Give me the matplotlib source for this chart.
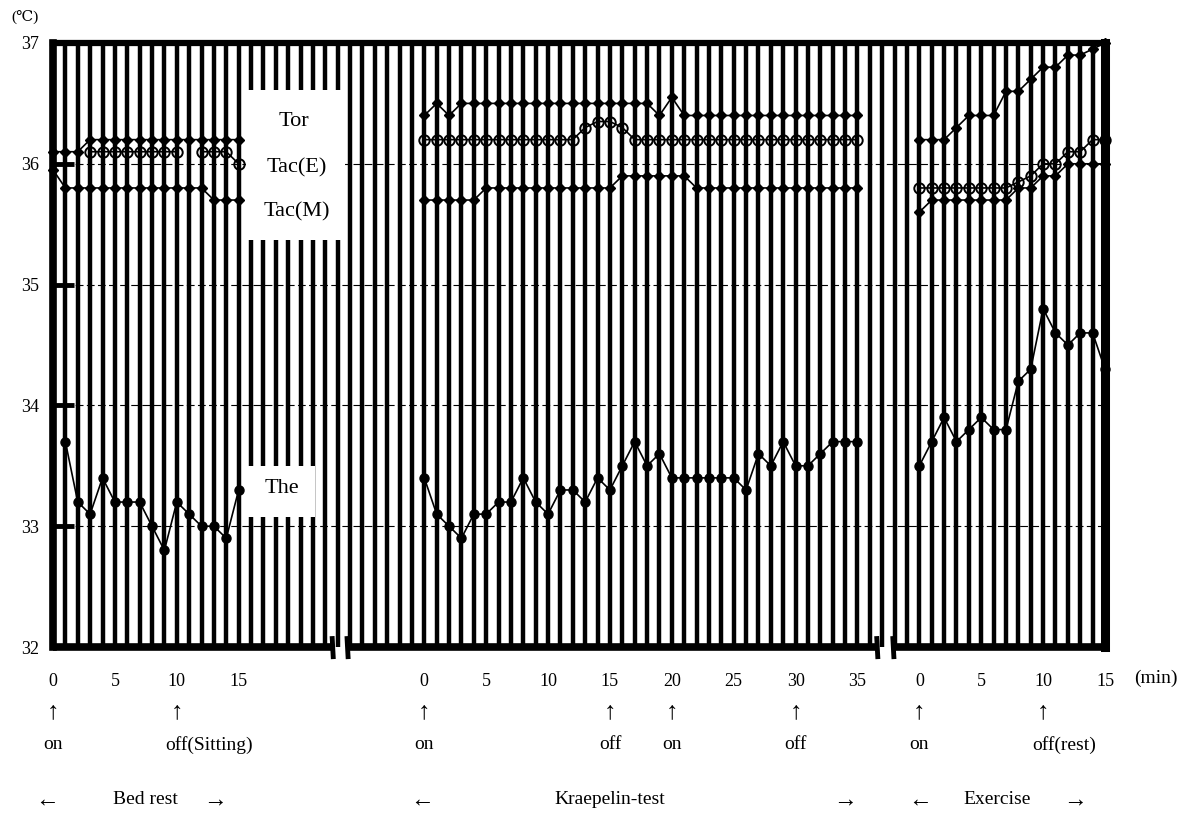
import matplotlib
matplotlib.use("Agg")
import matplotlib.pyplot as plt
import numpy as np

plt.rcParams["font.family"] = ["Liberation Serif", "DejaVu Serif", "DejaVu Sans"]

nan = np.nan

# the three sessions sit on one continuous minute grid (one black bar per minute)
session_names = ["Bed rest", "Kraepelin-test", "Exercise"]
session_start = [0, 30, 70]
session_ticks = [[0, 5, 10, 15], [0, 5, 10, 15, 20, 25, 30, 35], [0, 5, 10, 15]]
n_bars = 85

# bed rest, minutes 0..15
bed_tor = [36.1, 36.1, 36.1, 36.2, 36.2, 36.2, 36.2, 36.2, 36.2, 36.2, 36.2, 36.2, 36.2, 36.2, 36.2, 36.2]
bed_tac_e = [nan, nan, nan, 36.1, 36.1, 36.1, 36.1, 36.1, 36.1, 36.1, 36.1, nan, 36.1, 36.1, 36.1, 36.0]
bed_tac_m = [35.95, 35.8, 35.8, 35.8, 35.8, 35.8, 35.8, 35.8, 35.8, 35.8, 35.8, 35.8, 35.8, 35.7, 35.7, 35.7]
bed_the = [nan, 33.7, 33.2, 33.1, 33.4, 33.2, 33.2, 33.2, 33.0, 32.8, 33.2, 33.1, 33.0, 33.0, 32.9, 33.3]

# Kraepelin test, minutes 0..35
kr_tor = [36.4, 36.5, 36.4] + [36.5] * 16 + [36.4, 36.55] + [36.4] * 15
kr_tac_e = [36.2] * 13 + [36.3, 36.35, 36.35, 36.3] + [36.2] * 19
kr_tac_m = [35.7] * 5 + [35.8] * 11 + [35.9] * 6 + [35.8] * 14
kr_the = [33.4, 33.1, 33.0, 32.9, 33.1, 33.1, 33.2, 33.2, 33.4, 33.2, 33.1, 33.3,
          33.3, 33.2, 33.4, 33.3, 33.5, 33.7, 33.5, 33.6, 33.4, 33.4, 33.4, 33.4,
          33.4, 33.4, 33.3, 33.6, 33.5, 33.7, 33.5, 33.5, 33.6, 33.7, 33.7, 33.7]

# exercise, minutes 0..15
ex_tor = [36.2, 36.2, 36.2, 36.3, 36.4, 36.4, 36.4, 36.6, 36.6, 36.7, 36.8, 36.8, 36.9, 36.9, 36.95, 37.0]
ex_tac_e = [35.8, 35.8, 35.8, 35.8, 35.8, 35.8, 35.8, 35.8, 35.85, 35.9, 36.0, 36.0, 36.1, 36.1, 36.2, 36.2]
ex_tac_m = [35.6, 35.7, 35.7, 35.7, 35.7, 35.7, 35.7, 35.7, 35.8, 35.8, 35.9, 35.9, 36.0, 36.0, 36.0, 36.0]
ex_the = [33.5, 33.7, 33.9, 33.7, 33.8, 33.9, 33.8, 33.8, 34.2, 34.3, 34.8, 34.6, 34.5, 34.6, 34.6, 34.3]

series = {
    "Tor": [bed_tor, kr_tor, ex_tor],
    "Tac(E)": [bed_tac_e, kr_tac_e, ex_tac_e],
    "Tac(M)": [bed_tac_m, kr_tac_m, ex_tac_m],
    "The": [bed_the, kr_the, ex_the],
}
styles = {
    "Tor": dict(marker="D", ms=5, mfc="k", mec="k"),
    "Tac(E)": dict(marker="o", ms=7.5, mfc="none", mec="k", mew=1.4),
    "Tac(M)": dict(marker="D", ms=5, mfc="k", mec="k"),
    "The": dict(marker="o", ms=6.5, mfc="k", mec="k"),
}

# (session, minute, note)
events = [(0, 0, "on"), (0, 10, "off(Sitting)"), (1, 0, "on"), (1, 15, "off"),
          (1, 20, "on"), (1, 30, "off"), (2, 0, "on"), (2, 10, "off(rest)")]

fig = plt.figure(figsize=(11.83, 8.15), dpi=100)
ax = fig.add_axes([53 / 1183, 1 - 647 / 815, 1052 / 1183, 604 / 815])
ax.set_xlim(0, n_bars)
ax.set_ylim(32, 37)

# heavy minute bars
ax.vlines(np.arange(1, n_bars), 32, 37, colors="k", lw=3.2, zorder=1)
for yv in [33, 34, 35, 36]:
    ax.axhline(yv, color="k", lw=0.8, ls=(0, (7, 3)), zorder=0.5)

# white label boxes cut into the bars
ax.add_patch(plt.Rectangle((15.6, 35.37), 8.0, 1.24, fc="white", ec="none", zorder=2))
ax.add_patch(plt.Rectangle((15.5, 33.08), 5.7, 0.42, fc="white", ec="none", zorder=2))
ax.text(19.5, 36.35, "Tor", ha="center", va="center", fontsize=16, zorder=3)
ax.text(19.7, 35.97, "Tac(E)", ha="center", va="center", fontsize=16, zorder=3)
ax.text(19.7, 35.6, "Tac(M)", ha="center", va="center", fontsize=16, zorder=3)
ax.text(18.5, 33.31, "The", ha="center", va="center", fontsize=16, zorder=3)

for name, parts in series.items():
    for start, vals in zip(session_start, parts):
        x = start + np.arange(len(vals))
        ax.plot(x, vals, color="k", lw=1.2, clip_on=False, zorder=4, **styles[name])

# frame
for side, lw in [("left", 5.5), ("top", 4.5), ("right", 6.5)]:
    ax.spines[side].set_linewidth(lw)
ax.spines["bottom"].set_visible(False)
breaks = [(22.6, 23.8), (66.6, 67.9)]
edges = [0] + [v for b in breaks for v in b] + [n_bars]
for a, b in zip(edges[::2], edges[1::2]):
    ax.plot([a, b], [32, 32], color="k", lw=5.5, solid_capstyle="butt", clip_on=False, zorder=5)
for b in breaks:
    for xb in b:
        ax.plot([xb - 0.05, xb + 0.05], [32.09, 31.9], color="k", lw=3.5,
                solid_capstyle="butt", clip_on=False, zorder=5)

# axes ticks
ax.set_yticks([32, 33, 34, 35, 36, 37])
ax.tick_params(axis="y", direction="in", length=15, width=3.5, pad=10, labelsize=13)
xt, xl = [], []
for start, ticks in zip(session_start, session_ticks):
    xt += [start + t for t in ticks]
    xl += [str(t) for t in ticks]
ax.set_xticks(xt)
ax.set_xticklabels(xl)
ax.tick_params(axis="x", length=0, pad=19, labelsize=13)
ax.text(1.028, -0.052, "(min)", transform=ax.transAxes, ha="left", va="center", fontsize=14)
fig.text(25 / 1183, 1 - 17 / 815, "(℃)", ha="center", va="center", fontsize=11)

# event arrows and notes
trans = ax.get_xaxis_transform()
for s, m, note in events:
    xe = session_start[s] + m
    ax.text(xe, -0.108, "↑", transform=trans, ha="center", va="center", fontsize=18)
    if len(note) > 3:
        ax.text(xe - 0.9, -0.162, note, transform=trans, ha="left", va="center", fontsize=14)
    else:
        ax.text(xe, -0.162, note, transform=trans, ha="center", va="center", fontsize=14)

# session captions
caption_px = [(47, 145, 215), (422, 610, 845), (920, 997, 1075)]
for name, (l, c, r) in zip(session_names, caption_px):
    fig.text(l / 1183, 1 - 800 / 815, "←", ha="center", va="center", fontsize=17)
    fig.text(c / 1183, 1 - 800 / 815, name, ha="center", va="center", fontsize=14)
    fig.text(r / 1183, 1 - 800 / 815, "→", ha="center", va="center", fontsize=17)

fig.savefig("out.png", dpi=100)
